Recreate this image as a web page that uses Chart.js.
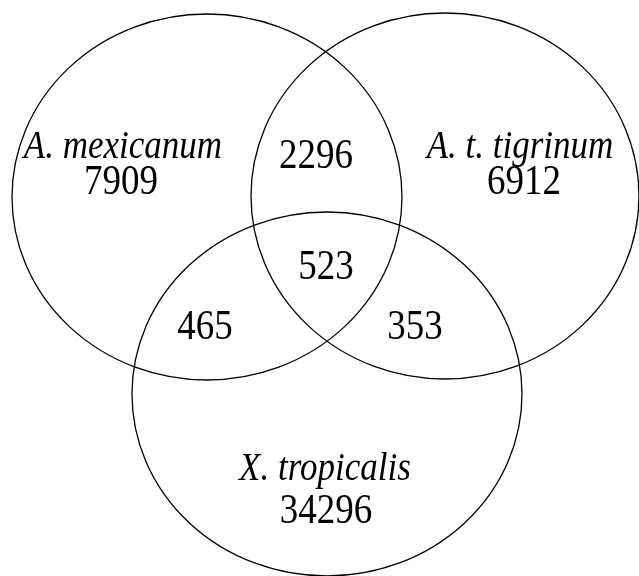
<!DOCTYPE html>
<html>
<head>
<meta charset="utf-8">
<script src="https://cdn.jsdelivr.net/npm/chart.js@4.4.0/dist/chart.umd.min.js"></script>
<style>
  html, body { margin: 0; padding: 0; background: #fff; }
  #wrap { width: 639px; height: 576px; }
</style>
</head>
<body>
<div id="wrap"><canvas id="myChart"></canvas></div>
<script>
// sets of the venn
const setNames = ['A. mexicanum', 'A. t. tigrinum', 'X. tropicalis']
const setOnly = [7909, 6912, 34296]
// ellipse centre and radii in plot units
const circleX = [207, 445, 327]
const circleY = [197, 196, 394]
const circleRx = [195, 194, 195]
const circleRy = [183, 183, 182]

// label anchors (plot units)
const setLabelX = [123, 520, 325]
const setLabelY = [148, 148, 470]
const countX = [121, 524, 326]
const countY = [183, 183, 512]

// overlaps
const overlapNames = ['mex+tig', 'mex+tig+trop', 'mex+trop', 'tig+trop']
const overlapCounts = [2296, 523, 465, 353]
const overlapX = [316, 326, 205, 415]
const overlapY = [157, 268, 328, 328]

const serif = '"Liberation Serif", "Times New Roman", serif'

function tallText(ctx, txt, x, y) {
  ctx.save()
  ctx.translate(x, y)
  ctx.scale(1, 1.12)
  ctx.fillText(txt, 0, 0)
  ctx.restore()
}

const vennPlugin = {
  id: 'venn',
  afterDatasetsDraw(chart) {
    const ctx = chart.ctx
    const sx = chart.scales.x, sy = chart.scales.y
    ctx.save()
    ctx.strokeStyle = '#000'
    ctx.lineWidth = 1.3
    for (let i = 0; i < circleX.length; i++) {
      const cx = sx.getPixelForValue(circleX[i])
      const cy = sy.getPixelForValue(circleY[i])
      const rx = Math.abs(sx.getPixelForValue(circleX[i] + circleRx[i]) - cx)
      const ry = Math.abs(sy.getPixelForValue(circleY[i] + circleRy[i]) - cy)
      ctx.beginPath()
      ctx.ellipse(cx, cy, rx, ry, 0, 0, Math.PI * 2)
      ctx.stroke()
    }
    ctx.fillStyle = '#000'
    ctx.textAlign = 'center'
    ctx.textBaseline = 'middle'
    for (let i = 0; i < setNames.length; i++) {
      ctx.font = 'italic 35px ' + serif
      tallText(ctx, setNames[i], sx.getPixelForValue(setLabelX[i]), sy.getPixelForValue(setLabelY[i]))
      ctx.font = '37px ' + serif
      tallText(ctx, String(setOnly[i]), sx.getPixelForValue(countX[i]), sy.getPixelForValue(countY[i]))
    }
    ctx.font = '37px ' + serif
    for (let i = 0; i < overlapCounts.length; i++) {
      tallText(ctx, String(overlapCounts[i]), sx.getPixelForValue(overlapX[i]), sy.getPixelForValue(overlapY[i]))
    }
    ctx.restore()
  }
}

const $ctx = document.getElementById('myChart').getContext('2d')
new Chart($ctx, {
  type: 'scatter',
  data: {
    datasets: [{
      label: 'centres',
      data: circleX.map((x, i) => ({ x: x, y: circleY[i] })),
      pointRadius: 0,
      pointHoverRadius: 0
    }]
  },
  options: {
    responsive: true,
    maintainAspectRatio: false,
    animation: false,
    layout: { padding: 0 },
    plugins: { legend: { display: false }, tooltip: { enabled: false } },
    events: [],
    scales: {
      x: { type: 'linear', min: 0, max: 639, display: false },
      y: { type: 'linear', min: 0, max: 576, reverse: true, display: false }
    }
  },
  plugins: [vennPlugin]
})
</script>
</body>
</html>
